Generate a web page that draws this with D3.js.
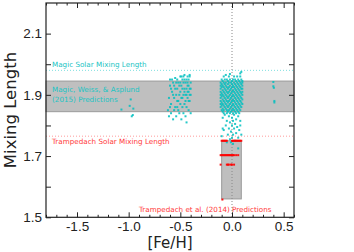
<!DOCTYPE html>
<html>
<head>
<meta charset="utf-8">
<script src="https://cdn.jsdelivr.net/npm/d3@7"></script>
<style>
  body { margin: 0; background: #fff; }
  svg { display: block; font-family: "DejaVu Sans", sans-serif; }
</style>
</head>
<body>
<svg id="chart" width="354" height="252"></svg>
<script>
// axis setup
var xMajor = [-1.5, -1.0, -0.5, 0.0, 0.5];
var yMajor = [1.5, 1.7, 1.9, 2.1];
var yOther = [1.6, 1.8, 2.0];

// reference lines and boxes
var magicSolar = 1.98, trampSolar = 1.765;
var magicBand = [1.845, 1.945];
var trampBox = { feh: [-0.1, 0.09], alpha: [1.56, 1.75] };

// Magic et al. predictions (cyan), [feh, alpha]
var magicLeft = [[-1.07,1.852],[-0.98,1.885],[-0.99,1.864],[-0.955,1.855],[-0.96,1.834],[-0.97,1.83]];
var magicRight = [[0.40,1.942],[0.40,1.928],[0.405,1.923],[0.41,1.880],[0.41,1.875]];
var magicMid = [
 [-0.60,1.93],[-0.58,1.91],[-0.57,1.94],[-0.55,1.92],[-0.54,1.90],[-0.53,1.95],[-0.52,1.88],[-0.51,1.93],[-0.50,1.91],[-0.49,1.96],
 [-0.48,1.89],[-0.47,1.94],[-0.46,1.92],[-0.45,1.90],[-0.44,1.95],[-0.43,1.93],[-0.42,1.91],[-0.41,1.96],[-0.40,1.94],[-0.42,1.88],
 [-0.61,1.89],[-0.59,1.87],[-0.58,1.95],[-0.56,1.89],[-0.55,1.86],[-0.53,1.92],[-0.52,1.94],[-0.50,1.87],[-0.49,1.93],[-0.48,1.95],
 [-0.47,1.90],[-0.46,1.87],[-0.45,1.94],[-0.44,1.92],[-0.43,1.89],[-0.42,1.95],[-0.41,1.92],[-0.40,1.90],[-0.41,1.88],[-0.44,1.86],
 [-0.60,1.86],[-0.59,1.92],[-0.57,1.90],[-0.56,1.93],[-0.54,1.94],[-0.53,1.88],[-0.51,1.90],[-0.50,1.94],[-0.49,1.89],[-0.48,1.92],
 [-0.47,1.96],[-0.46,1.91],[-0.45,1.88],[-0.44,1.90],[-0.43,1.94],[-0.43,1.91],[-0.42,1.93],[-0.41,1.90],[-0.40,1.92],[-0.46,1.95],
 [-0.62,1.85],[-0.61,1.83],[-0.59,1.84],[-0.57,1.82],[-0.56,1.85],[-0.54,1.83],[-0.52,1.85],[-0.51,1.84],[-0.49,1.82],[-0.47,1.84],
 [-0.45,1.83],[-0.44,1.81],[-0.42,1.85],[-0.40,1.84],[-0.48,1.86],[-0.53,1.86],
 [-0.50,1.96],[-0.46,1.965],[-0.43,1.96],[-0.41,1.965],[-0.55,1.955],[-0.60,1.95]
];
var magicSolarZ = [
 [-0.08,1.96],[-0.03,1.96],[0.02,1.96],[0.05,1.96],[0.08,1.96],
 [-0.10,1.95],[-0.07,1.95],[-0.05,1.95],[-0.02,1.95],[0.01,1.95],[0.03,1.95],[0.06,1.95],[0.09,1.95],
 [-0.09,1.945],[-0.04,1.945],[0.00,1.945],[0.04,1.945],[0.07,1.945],[0.10,1.945],
 [-0.11,1.94],[-0.08,1.94],[-0.06,1.94],[-0.03,1.94],[-0.01,1.94],[0.02,1.94],[0.05,1.94],[0.08,1.94],[0.10,1.94],
 [-0.10,1.935],[-0.07,1.935],[-0.04,1.935],[0.00,1.935],[0.03,1.935],[0.06,1.935],[0.09,1.935],
 [-0.11,1.93],[-0.09,1.93],[-0.06,1.93],[-0.02,1.93],[0.01,1.93],[0.04,1.93],[0.07,1.93],[0.10,1.93],
 [-0.10,1.925],[-0.08,1.925],[-0.05,1.925],[-0.03,1.925],[0.00,1.925],[0.02,1.925],[0.05,1.925],[0.08,1.925],
 [-0.11,1.92],[-0.07,1.92],[-0.04,1.92],[-0.01,1.92],[0.03,1.92],[0.06,1.92],[0.09,1.92],[0.10,1.92],
 [-0.09,1.915],[-0.06,1.915],[-0.02,1.915],[0.01,1.915],[0.04,1.915],[0.07,1.915],
 [-0.11,1.91],[-0.08,1.91],[-0.05,1.91],[-0.03,1.91],[0.00,1.91],[0.02,1.91],[0.05,1.91],[0.08,1.91],[0.10,1.91],
 [-0.10,1.905],[-0.07,1.905],[-0.04,1.905],[-0.01,1.905],[0.03,1.905],[0.06,1.905],[0.09,1.905],
 [-0.11,1.90],[-0.09,1.90],[-0.06,1.90],[-0.02,1.90],[0.01,1.90],[0.04,1.90],[0.07,1.90],[0.10,1.90],
 [-0.10,1.895],[-0.08,1.895],[-0.05,1.895],[-0.03,1.895],[0.00,1.895],[0.02,1.895],[0.05,1.895],[0.08,1.895],
 [-0.11,1.89],[-0.07,1.89],[-0.04,1.89],[-0.01,1.89],[0.03,1.89],[0.06,1.89],[0.09,1.89],
 [-0.09,1.885],[-0.06,1.885],[-0.02,1.885],[0.01,1.885],[0.04,1.885],[0.07,1.885],[0.10,1.885],
 [-0.11,1.88],[-0.08,1.88],[-0.05,1.88],[-0.03,1.88],[0.00,1.88],[0.02,1.88],[0.05,1.88],[0.08,1.88],
 [-0.10,1.875],[-0.07,1.875],[-0.04,1.875],[-0.01,1.875],[0.03,1.875],[0.06,1.875],[0.09,1.875],
 [-0.11,1.87],[-0.09,1.87],[-0.06,1.87],[-0.02,1.87],[0.01,1.87],[0.04,1.87],[0.07,1.87],[0.10,1.87],
 [-0.10,1.865],[-0.08,1.865],[-0.05,1.865],[-0.03,1.865],[0.00,1.865],[0.02,1.865],[0.05,1.865],[0.08,1.865],
 [-0.11,1.86],[-0.07,1.86],[-0.04,1.86],[-0.01,1.86],[0.03,1.86],[0.06,1.86],[0.09,1.86],
 [-0.09,1.855],[-0.06,1.855],[-0.02,1.855],[0.01,1.855],[0.04,1.855],[0.07,1.855],
 [-0.10,1.85],[-0.08,1.85],[-0.05,1.85],[-0.03,1.85],[0.00,1.85],[0.02,1.85],[0.05,1.85],[0.08,1.85],
 [-0.09,1.845],[-0.04,1.845],[-0.01,1.845],[0.03,1.845],[0.06,1.845],
 [-0.08,1.84],[-0.05,1.84],[-0.02,1.84],[0.01,1.84],[0.04,1.84],[0.07,1.84],
 [0.09,1.975],[0.08,1.97],[-0.06,1.965],[-0.02,1.968],
 [-0.07,1.835],[-0.03,1.83],[0.02,1.835],[0.06,1.83],[-0.09,1.825],[0.00,1.825],[0.04,1.82],[-0.05,1.815],
 [0.01,1.815],[0.08,1.815],[-0.02,1.81],[0.03,1.805],[-0.06,1.80],[0.00,1.80],[0.05,1.795],[-0.03,1.79],
 [0.02,1.79],[-0.08,1.785],[0.07,1.785],[-0.01,1.78],[0.04,1.775],[-0.04,1.77],[0.01,1.77],[-0.10,1.765],
 [0.00,1.76],[0.06,1.76],[-0.02,1.755],[0.03,1.75],[-0.05,1.745],[0.01,1.74],[0.08,1.80],[-0.09,1.79],
 [0.09,1.77],[0.06,1.725],[-0.01,1.745]
];

// Trampedach et al. predictions (red), [feh, alpha]
var tramp = [
 [-0.10,1.75],[-0.09,1.75],[-0.08,1.75],[-0.07,1.75],[-0.06,1.75],[-0.05,1.75],
 [0.00,1.75],[0.01,1.75],[0.02,1.75],[0.03,1.75],[0.04,1.75],[0.05,1.75],[0.06,1.75],[0.07,1.75],[0.08,1.75],[0.09,1.75],
 [-0.11,1.703],[-0.10,1.703],[-0.09,1.703],[-0.08,1.703],[-0.07,1.703],[-0.06,1.703],[-0.05,1.703],[-0.04,1.703],
 [-0.03,1.703],[-0.02,1.703],[-0.01,1.703],[0.00,1.703],[0.01,1.703],[0.02,1.703],[0.04,1.703],[0.06,1.703],
 [-0.11,1.672],[-0.05,1.672],[-0.04,1.672],[-0.03,1.672],[-0.01,1.672],[0.00,1.672],[0.02,1.672],
 [-0.093,1.558]
];

var W = 354, H = 252;
var x = d3.scaleLinear().domain([-1.8, 0.6]).range([46, 294]);
var y = d3.scaleLinear().domain([1.5, 2.2]).range([217.3, 3]);
var xMinor = d3.range(-18, 7).map(function(d){ return d / 10; })
    .filter(function(d){ return xMajor.every(function(m){ return Math.abs(m - d) > 1e-6; }); });

var svg = d3.select("#chart");
var fmt = function(d){ return d.toFixed(1); };

// gray bands
svg.append("rect")
    .attr("x", x(-1.8)).attr("width", x(0.6) - x(-1.8))
    .attr("y", y(magicBand[1])).attr("height", y(magicBand[0]) - y(magicBand[1]))
    .attr("fill", "#bfbfbf").attr("stroke", "#9a9a9a").attr("stroke-width", 1);
svg.append("rect")
    .attr("x", x(trampBox.feh[0])).attr("width", x(trampBox.feh[1]) - x(trampBox.feh[0]))
    .attr("y", y(trampBox.alpha[1])).attr("height", y(trampBox.alpha[0]) - y(trampBox.alpha[1]))
    .attr("fill", "#bfbfbf").attr("stroke", "#9a9a9a").attr("stroke-width", 1);

// dotted lines
svg.append("line").attr("x1", x(-1.8)).attr("x2", x(0.6)).attr("y1", y(magicSolar)).attr("y2", y(magicSolar))
    .attr("stroke", "#7fdfdf").attr("stroke-width", 1).attr("stroke-dasharray", "1,2");
svg.append("line").attr("x1", x(-1.8)).attr("x2", x(0.6)).attr("y1", y(trampSolar)).attr("y2", y(trampSolar))
    .attr("stroke", "#ff9a9a").attr("stroke-width", 1).attr("stroke-dasharray", "1,2");
svg.append("line").attr("x1", x(0)).attr("x2", x(0)).attr("y1", y(2.2)).attr("y2", y(1.5))
    .attr("stroke", "#888").attr("stroke-width", 1).attr("stroke-dasharray", "1,2");

// points
var cyanPts = magicLeft.concat(magicMid, magicSolarZ, magicRight);
svg.append("g").selectAll("rect").data(cyanPts).enter().append("rect")
    .attr("x", function(d){ return x(d[0]) - 1; })
    .attr("y", function(d){ return y(d[1]) - 1; })
    .attr("width", 2).attr("height", 2)
    .attr("fill", "#00bfbf").attr("opacity", 0.85);
svg.append("g").selectAll("rect").data(tramp).enter().append("rect")
    .attr("x", function(d){ return x(d[0]) - 1; })
    .attr("y", function(d){ return y(d[1]) - 1; })
    .attr("width", 2).attr("height", 2)
    .attr("fill", "#ff0000").attr("opacity", 0.9);

// annotations
var note = svg.append("g").attr("font-size", 7.2);
note.append("text").attr("x", 52).attr("y", 67).attr("fill", "#22c4c4").text("Magic Solar Mixing Length");
note.append("text").attr("x", 52).attr("y", 92).attr("fill", "#22c4c4").text("Magic, Weiss, & Asplund");
note.append("text").attr("x", 52).attr("y", 101.5).attr("fill", "#22c4c4").text("(2015) Predictions");
note.append("text").attr("x", 52).attr("y", 143.5).attr("fill", "#ff3a3a").text("Trampedach Solar Mixing Length");
note.append("text").attr("x", 139).attr("y", 211.5).attr("fill", "#ff3a3a").text("Trampedach et al. (2014) Predictions");

// axes, ticks pointing inward on all four sides
function styleAxis(g) {
    g.select(".domain").remove();
    g.selectAll(".tick line").attr("stroke", "#222");
    g.selectAll(".tick text").attr("fill", "#222").attr("font-size", 13.5);
}
svg.append("g").attr("transform", "translate(0," + y(1.5) + ")")
    .call(d3.axisBottom(x).tickValues(xMajor).tickFormat(fmt).tickSize(-5).tickPadding(4)).call(styleAxis);
svg.append("g").attr("transform", "translate(0," + y(1.5) + ")")
    .call(d3.axisBottom(x).tickValues(xMinor).tickFormat("").tickSize(-2.5)).call(styleAxis);
svg.append("g").attr("transform", "translate(0," + y(2.2) + ")")
    .call(d3.axisTop(x).tickValues(xMajor).tickFormat("").tickSize(-5)).call(styleAxis);
svg.append("g").attr("transform", "translate(0," + y(2.2) + ")")
    .call(d3.axisTop(x).tickValues(xMinor).tickFormat("").tickSize(-2.5)).call(styleAxis);
svg.append("g").attr("transform", "translate(" + x(-1.8) + ",0)")
    .call(d3.axisLeft(y).tickValues(yMajor).tickFormat(fmt).tickSize(-5).tickPadding(4)).call(styleAxis);
svg.append("g").attr("transform", "translate(" + x(-1.8) + ",0)")
    .call(d3.axisLeft(y).tickValues(yOther).tickFormat("").tickSize(-5)).call(styleAxis);
svg.append("g").attr("transform", "translate(" + x(0.6) + ",0)")
    .call(d3.axisRight(y).tickValues(yMajor.concat(yOther)).tickFormat("").tickSize(-5)).call(styleAxis);

// frame
svg.append("rect").attr("x", x(-1.8)).attr("y", y(2.2))
    .attr("width", x(0.6) - x(-1.8)).attr("height", y(1.5) - y(2.2))
    .attr("fill", "none").attr("stroke", "#222").attr("stroke-width", 1.2);

// axis titles
svg.append("text").attr("x", 170).attr("y", 248).attr("text-anchor", "middle")
    .attr("font-size", 15).attr("fill", "#222").text("[Fe/H]");
svg.append("text").attr("transform", "translate(16,110) rotate(-90)").attr("text-anchor", "middle")
    .attr("font-size", 16.5).attr("fill", "#222").text("Mixing Length");
</script>
</body>
</html>
